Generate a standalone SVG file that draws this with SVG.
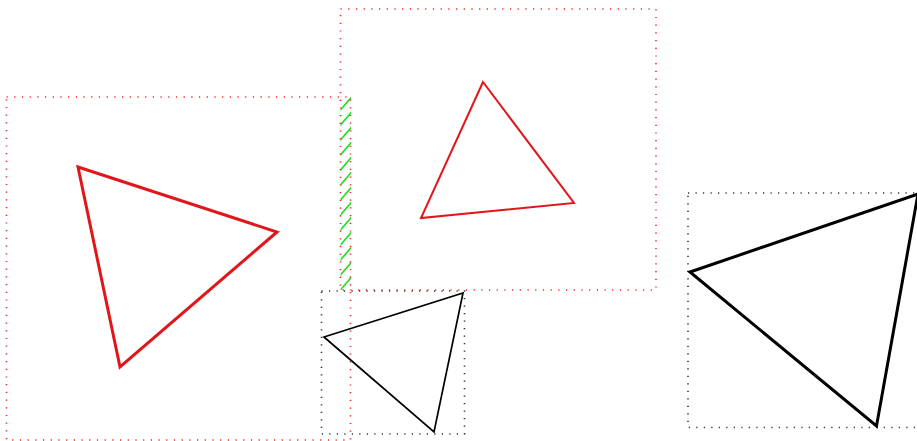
<svg xmlns="http://www.w3.org/2000/svg" width="917" height="441" viewBox="0 0 917 441">
<style>
.boxr{fill:none;stroke:#e8262b;stroke-width:1.6;stroke-dasharray:1.2 6.5}
.boxk{fill:none;stroke:#333;stroke-width:1.6;stroke-dasharray:1.2 6.3}
.tr{fill:none;stroke:#e0161b;stroke-linejoin:miter}
.tk{fill:none;stroke:#000;stroke-linejoin:miter}
.hatch{stroke:#22dd22;stroke-width:1.6}
</style>
<defs>
<clipPath id="ov"><rect x="340.5" y="97" width="10.5" height="193"/></clipPath>
</defs>
<rect width="917" height="441" fill="#fff"/>
<g id="overlap" clip-path="url(#ov)">
<g class="hatch">
<line x1="330" y1="122" x2="356" y2="92"/>
<line x1="330" y1="137" x2="356" y2="107"/>
<line x1="330" y1="152" x2="356" y2="122"/>
<line x1="330" y1="167" x2="356" y2="137"/>
<line x1="330" y1="182" x2="356" y2="152"/>
<line x1="330" y1="197" x2="356" y2="167"/>
<line x1="330" y1="212" x2="356" y2="182"/>
<line x1="330" y1="227" x2="356" y2="197"/>
<line x1="330" y1="242" x2="356" y2="212"/>
<line x1="330" y1="257" x2="356" y2="227"/>
<line x1="330" y1="272" x2="356" y2="242"/>
<line x1="330" y1="287" x2="356" y2="257"/>
<line x1="330" y1="302" x2="356" y2="272"/>
</g>
</g>
<g id="node-left">
<rect class="boxr" x="6.5" y="97" width="344" height="343"/>
<polygon class="tr" stroke-width="3" points="78,167 277,232 120,367"/>
</g>
<g id="node-top">
<rect class="boxr" x="340.5" y="9" width="315.5" height="281"/>
<polygon class="tr" stroke-width="2" points="483,82 574,203 421,218"/>
</g>
<g id="node-small">
<rect class="boxk" x="321.5" y="291" width="143" height="143"/>
<polygon class="tk" stroke-width="1.7" points="324,337 463,293 434,432"/>
</g>
<g id="node-right">
<rect class="boxk" x="688" y="193" width="240" height="234.5"/>
<polygon class="tk" stroke-width="3" points="690,272 918,194 876.5,426"/>
</g>
<g id="connectors"/>
</svg>
